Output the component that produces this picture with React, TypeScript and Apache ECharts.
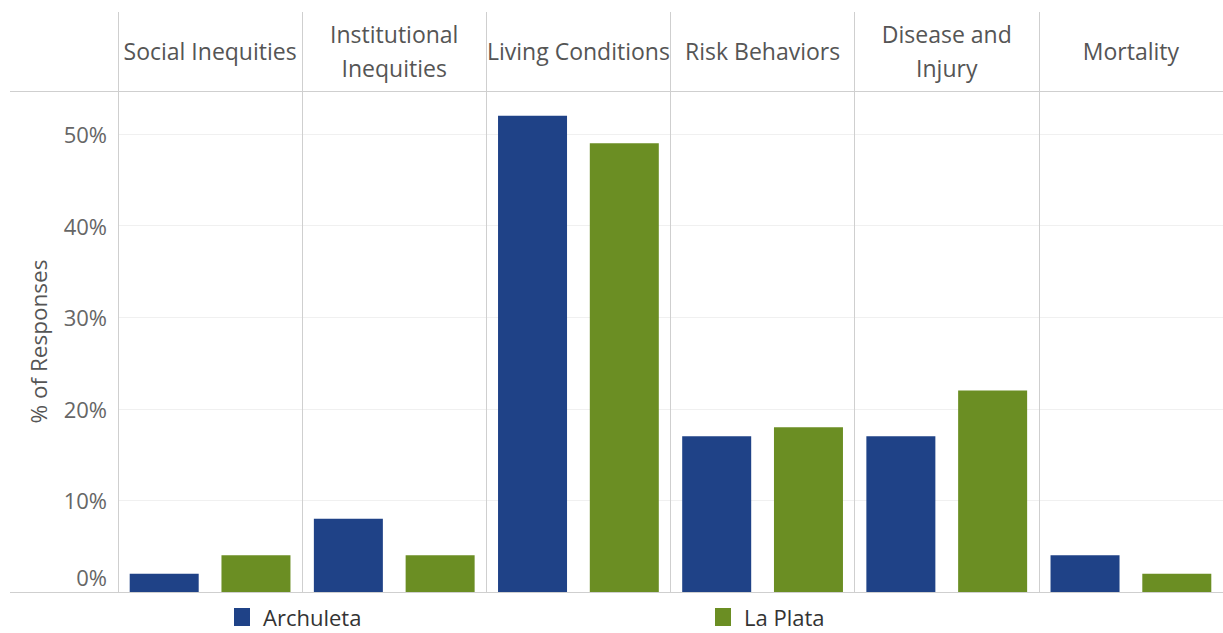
import React, { useEffect, useRef } from "react";
import * as echarts from "echarts";

const categories = [
  "Social Inequities",
  "Institutional\nInequities",
  "Living Conditions",
  "Risk Behaviors",
  "Disease and\nInjury",
  "Mortality",
];
const archuleta = [2, 8, 52, 17, 17, 4];
const laPlata = [4, 4, 49, 18, 22, 2];
const yTicks = [0, 10, 20, 30, 40, 50];

const FONT = "'Open Sans', 'Noto Sans', sans-serif";

const legendText = { fontSize: 22, color: "#333", fontFamily: FONT, padding: [0, 0, 0, 8] };

export default function App() {
  const ref = useRef<HTMLDivElement>(null);
  useEffect(() => {
    if (!ref.current) return;
    const chart = echarts.init(ref.current, undefined, { renderer: "svg" });
    chart.setOption({
      animation: false,
      textStyle: { fontFamily: FONT },
      grid: { left: 118, right: 0, top: 91, bottom: 41 },
      legend: [
        {
          data: ["Archuleta"],
          left: 234,
          top: 606,
          padding: 0,
          icon: "rect",
          itemWidth: 16,
          itemHeight: 18,
          textStyle: legendText,
        },
        {
          data: ["La Plata"],
          left: 715,
          top: 606,
          padding: 0,
          icon: "rect",
          itemWidth: 16,
          itemHeight: 18,
          textStyle: legendText,
        },
      ],
      xAxis: {
        type: "category",
        position: "top",
        data: categories,
        axisLine: { show: true, onZero: false, lineStyle: { color: "#cfcfcf", width: 1 } },
        axisTick: {
          show: true,
          interval: 0,
          alignWithLabel: false,
          inside: false,
          length: 79,
          lineStyle: { color: "#cfcfcf", width: 1 },
        },
        splitLine: { show: true, interval: 0, lineStyle: { color: "#cfcfcf", width: 1 } },
        axisLabel: {
          fontSize: 23,
          color: "#555",
          fontFamily: FONT,
          margin: 40,
          verticalAlign: "middle",
          lineHeight: 34,
          interval: 0,
        },
      },
      yAxis: {
        type: "value",
        min: 0,
        max: 54.7,
        interval: 10,
        name: "% of Responses",
        nameLocation: "middle",
        nameGap: 68,
        nameTextStyle: { fontSize: 22.5, color: "#555", fontFamily: FONT },
        axisLine: { show: true, lineStyle: { color: "#cfcfcf" } },
        axisTick: { show: false },
        splitLine: { show: true, lineStyle: { color: "#f0f0f0" } },
        axisLabel: {
          margin: 11,
          fontSize: 22,
          color: "#666",
          fontFamily: FONT,
          formatter: (v: number) => {
            if (!yTicks.includes(Math.round(v * 1000) / 1000)) return "";
            if (v === 0) return "{z|0%}";
            return v + "%";
          },
          rich: {
            z: { fontSize: 22, color: "#666", fontFamily: FONT, padding: [0, 0, 30, 0] },
          },
        },
      },
      graphic: [
        {
          type: "line",
          shape: { x1: 10, y1: 91.5, x2: 118, y2: 91.5 },
          style: { stroke: "#cfcfcf", lineWidth: 1 },
        },
        {
          type: "line",
          shape: { x1: 10, y1: 592.5, x2: 1223, y2: 592.5 },
          style: { stroke: "#cfcfcf", lineWidth: 1 },
          z: 10,
        },
      ],
      series: [
        {
          name: "Archuleta",
          type: "bar",
          data: archuleta,
          barWidth: 69,
          barGap: "33%",
          itemStyle: { color: "#1f4287" },
        },
        {
          name: "La Plata",
          type: "bar",
          data: laPlata,
          barWidth: 69,
          barGap: "33%",
          itemStyle: { color: "#6b8e23" },
        },
      ],
    });
    return () => chart.dispose();
  }, []);
  return (
    <div
      ref={ref}
      style={{ position: "fixed", left: 0, top: 0, width: 1223, height: 633, background: "#fff" }}
    />
  );
}
